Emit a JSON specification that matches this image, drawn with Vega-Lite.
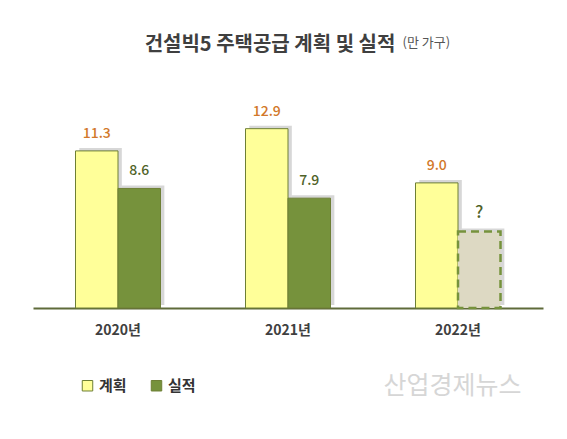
{
  "$schema": "https://vega.github.io/schema/vega-lite/v6.json",
  "width": 510,
  "height": 228,
  "autosize": {"type": "none"},
  "padding": {"left": 33, "top": 80, "right": 24, "bottom": 131},
  "background": "white",
  "config": {
    "font": "Noto Sans CJK KR",
    "view": {"stroke": null}
  },
  "title": {
    "text": "건설빅5 주택공급 계획 및 실적",
    "fontSize": 20,
    "fontWeight": "bold",
    "color": "#3f3f3f",
    "anchor": "middle",
    "frame": "group",
    "dx": -18,
    "offset": -19
  },
  "data": {
    "values": [
      {"year": "2020년", "series": "계획", "value": 11.3, "label": "11.3", "status": "확정"},
      {"year": "2020년", "series": "실적", "value": 8.6, "label": "8.6", "status": "확정"},
      {"year": "2021년", "series": "계획", "value": 12.9, "label": "12.9", "status": "확정"},
      {"year": "2021년", "series": "실적", "value": 7.9, "label": "7.9", "status": "확정"},
      {"year": "2022년", "series": "계획", "value": 9.0, "label": "9.0", "status": "확정"},
      {"year": "2022년", "series": "실적", "value": 5.5, "label": "?", "status": "미정"}
    ]
  },
  "encoding": {
    "x": {
      "field": "year",
      "type": "nominal",
      "scale": {"paddingInner": 0, "paddingOuter": 0},
      "axis": {
        "labelAngle": 0,
        "labelFontSize": 14,
        "labelFontWeight": "bold",
        "labelColor": "#404040",
        "domainColor": "#5F6B3A",
        "domainWidth": 2,
        "ticks": false,
        "labelPadding": 15,
        "title": "산업경제뉴스",
        "titleX": 419,
        "titleY": 77,
        "titleFontSize": 25,
        "titleFontWeight": "normal",
        "titleColor": "#d6d6d6",
        "titleAlign": "center",
        "titleBaseline": "middle"
      }
    },
    "y": {
      "field": "value",
      "type": "quantitative",
      "scale": {"domain": [0, 16.4], "nice": false},
      "axis": {
        "title": "(만 가구)",
        "titleX": 369,
        "titleY": -38,
        "titleAngle": 0,
        "titleAlign": "left",
        "titleBaseline": "middle",
        "titleFontSize": 13,
        "titleFontWeight": "normal",
        "titleColor": "#555555",
        "labels": false,
        "ticks": false,
        "domain": false,
        "grid": false
      }
    }
  },
  "resolve": {"scale": {"xOffset": "independent"}},
  "layer": [
    {
      "mark": {"type": "bar", "fill": "#b0b0b0", "opacity": 0.5, "yOffset": -3},
      "encoding": {
        "xOffset": {
          "field": "series",
          "type": "nominal",
          "scale": {"domain": ["계획", "실적"], "paddingInner": 0, "paddingOuter": 1.1, "align": 0.545}
        }
      }
    },
    {
      "layer": [
        {
          "transform": [{"filter": "datum.status !== '미정'"}],
          "mark": {"type": "bar", "stroke": "#6E7F35", "strokeWidth": 1},
          "encoding": {
            "fill": {
              "field": "series",
              "type": "nominal",
              "scale": {"domain": ["계획", "실적"], "range": ["#FFFF99", "#76923C"]},
              "legend": {
                "orient": "none",
                "legendX": 47,
                "legendY": 298,
                "direction": "horizontal",
                "title": null,
                "symbolType": "square",
                "symbolSize": 110,
                "symbolStrokeWidth": 1,
                "labelFontSize": 15,
                "labelFontWeight": "bold",
                "labelColor": "#333333",
                "columnPadding": 22
              }
            }
          }
        },
        {
          "transform": [{"filter": "datum.status === '미정'"}],
          "mark": {"type": "bar", "fill": "#DDD9C3", "stroke": "#76923C", "strokeWidth": 2.5, "strokeDash": [8, 5]}
        },
        {
          "mark": {"type": "text", "baseline": "bottom", "dy": -10, "fontWeight": 500},
          "encoding": {
            "text": {"field": "label", "type": "nominal"},
            "size": {
              "condition": {"test": "datum.status === '미정'", "value": 17},
              "value": 14
            },
            "color": {
              "condition": {"test": "datum.series === '계획'", "value": "#D2782A"},
              "value": "#4F6228"
            }
          }
        }
      ],
      "encoding": {
        "xOffset": {
          "field": "series",
          "type": "nominal",
          "scale": {"domain": ["계획", "실적"], "paddingInner": 0, "paddingOuter": 1.1}
        }
      }
    }
  ]
}
